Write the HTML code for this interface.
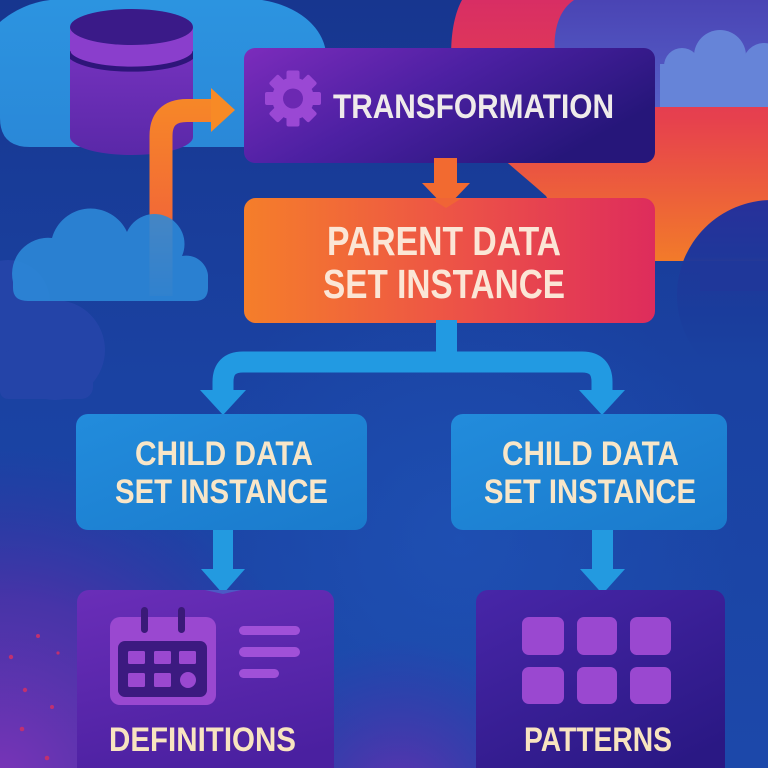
<!DOCTYPE html>
<html><head><meta charset="utf-8"><style>
html,body{margin:0;padding:0;background:#1b3d9c;}
svg{display:block;}
text{font-family:"Liberation Sans Narrow","Liberation Sans",sans-serif;font-weight:700;}
</style></head><body>
<svg width="768" height="768" viewBox="0 0 768 768" xmlns="http://www.w3.org/2000/svg">
<defs>
<linearGradient id="bg" x1="0" y1="0" x2="0" y2="1">
<stop offset="0" stop-color="#17368f"/><stop offset="0.5" stop-color="#1a42a2"/><stop offset="1" stop-color="#1c48aa"/>
</linearGradient>
<radialGradient id="glowc" cx="460" cy="540" r="280" gradientUnits="userSpaceOnUse">
<stop offset="0" stop-color="#2056ba" stop-opacity="0.6"/><stop offset="1" stop-color="#2056ba" stop-opacity="0"/>
</radialGradient>
<radialGradient id="pbl" cx="0" cy="780" r="330" gradientUnits="userSpaceOnUse">
<stop offset="0" stop-color="#7a34b8"/><stop offset="0.55" stop-color="#5a2ca8" stop-opacity="0.7"/><stop offset="1" stop-color="#3a2aa0" stop-opacity="0"/>
</radialGradient>
<radialGradient id="pbm" cx="400" cy="800" r="160" gradientUnits="userSpaceOnUse">
<stop offset="0" stop-color="#6a30b0" stop-opacity="0.9"/><stop offset="1" stop-color="#4a2aa8" stop-opacity="0"/>
</radialGradient>
<linearGradient id="warm" x1="0" y1="0" x2="0" y2="260" gradientUnits="userSpaceOnUse">
<stop offset="0" stop-color="#d82e64"/><stop offset="0.45" stop-color="#e6404e"/><stop offset="1" stop-color="#f27a2a"/>
</linearGradient>
<linearGradient id="sky" x1="0" y1="0" x2="0" y2="107" gradientUnits="userSpaceOnUse">
<stop offset="0" stop-color="#4a44b4"/><stop offset="1" stop-color="#5660c8"/>
</linearGradient>
<linearGradient id="dcl" x1="0" y1="200" x2="0" y2="390" gradientUnits="userSpaceOnUse">
<stop offset="0" stop-color="#28309a"/><stop offset="0.3" stop-color="#1f379a"/><stop offset="0.6" stop-color="#1b3a9a" stop-opacity="0.6"/><stop offset="0.85" stop-color="#1b3c9c" stop-opacity="0"/>
</linearGradient>
<linearGradient id="cl1" x1="0" y1="0" x2="0" y2="1">
<stop offset="0" stop-color="#2c94e0"/><stop offset="1" stop-color="#2a88d8"/>
</linearGradient>
<linearGradient id="tf" x1="0" y1="0" x2="1" y2="0.5">
<stop offset="0" stop-color="#7c2cbc"/><stop offset="0.5" stop-color="#4c20a2"/><stop offset="1" stop-color="#26167a"/>
</linearGradient>
<linearGradient id="par" x1="0" y1="0" x2="1" y2="0">
<stop offset="0" stop-color="#f57e2a"/><stop offset="0.5" stop-color="#ed5446"/><stop offset="1" stop-color="#de2c5c"/>
</linearGradient>
<linearGradient id="child" x1="0" y1="0" x2="1" y2="1">
<stop offset="0" stop-color="#228cdc"/><stop offset="1" stop-color="#1a7acc"/>
</linearGradient>
<linearGradient id="defb" x1="0" y1="0" x2="0.3" y2="1">
<stop offset="0" stop-color="#6a2eb8"/><stop offset="1" stop-color="#4a20a0"/>
</linearGradient>
<linearGradient id="patb" x1="0" y1="0" x2="0.6" y2="1">
<stop offset="0" stop-color="#4826a8"/><stop offset="1" stop-color="#2a1884"/>
</linearGradient>
<linearGradient id="oarr" x1="0" y1="88" x2="0" y2="300" gradientUnits="userSpaceOnUse">
<stop offset="0" stop-color="#f78a26"/><stop offset="0.6" stop-color="#f26a36"/><stop offset="1" stop-color="#ee6040" stop-opacity="0.2"/>
</linearGradient>
<linearGradient id="cylb" x1="0" y1="0" x2="0" y2="1">
<stop offset="0" stop-color="#7a34c2"/><stop offset="1" stop-color="#5a28a8"/>
</linearGradient>
<clipPath id="cylclip"><path d="M70 20 L70 137 A61.5 18 0 0 0 193 137 L193 20 Z"/></clipPath>
</defs>

<!-- background -->
<rect width="768" height="768" fill="url(#bg)"/>
<rect width="768" height="768" fill="url(#glowc)"/>
<rect width="768" height="768" fill="url(#pbl)"/>
<rect width="768" height="768" fill="url(#pbm)"/>

<!-- warm sun shape -->
<path d="M462 0 C448 25 446 80 466 116 C482 145 515 168 546 196 L580 261 L768 261 L768 0 Z" fill="url(#warm)"/>
<!-- sky -->
<path d="M574 0 C556 12 552 38 556 62 L556 107 L768 107 L768 0 Z" fill="url(#sky)"/>
<!-- light cloud top right -->
<g fill="#6684d8">
<circle cx="682" cy="66" r="18"/><circle cx="720" cy="56" r="26"/><circle cx="764" cy="64" r="21"/>
<rect x="660" y="64" width="108" height="43"/>
</g>
<!-- dark cloud right -->
<circle cx="772" cy="295" r="95" fill="url(#dcl)"/>
<rect x="700" y="261" width="68" height="30" fill="#1f379a"/>

<!-- cloud 3 dark bottom-left -->
<g fill="#2444a8">
<circle cx="8" cy="302" r="42"/><circle cx="55" cy="350" r="50"/>
<rect x="0" y="300" width="60" height="99" rx="8"/><rect x="0" y="350" width="93" height="49" rx="12"/>
</g>

<!-- cloud 1 big top-left -->
<path d="M30 147 Q0 147 0 118 L0 22 C14 10 32 2 50 0 L262 0 C298 6 322 26 326 52 L326 147 Z" fill="url(#cl1)"/>

<!-- cylinder -->
<path d="M70 27 L70 137 A61.5 18 0 0 0 193 137 L193 27 Z" fill="url(#cylb)"/>
<g clip-path="url(#cylclip)">
<path d="M70 27 L70 50 A61.5 18 0 0 0 193 50 L193 27 Z" fill="#8a3ecc"/>
<path d="M68 51 A63 18 0 0 0 195 51" fill="none" stroke="#2e157a" stroke-width="5"/>
</g>
<ellipse cx="131.5" cy="27" rx="61.5" ry="18" fill="#3a1a88"/>

<!-- orange arrow -->
<path d="M161 296 V136 Q161 110.5 187 110.5 H214" fill="none" stroke="url(#oarr)" stroke-width="23"/>
<polygon points="211,88 235,110 211,132" fill="#f78a26"/>

<!-- cloud 2 light -->
<g fill="#2c8ad8" opacity="0.88">
<path d="M28 301 L195 301 Q208 301 208 288 L208 275 A22 22 0 0 0 182 256 A30 30 0 0 0 127 232 A40 40 0 0 0 52 238 A36 36 0 0 0 13 282 L13 288 Q13 301 28 301 Z"/>
</g>

<!-- transformation box -->
<rect x="244" y="48" width="411" height="115" rx="11" fill="url(#tf)"/>
<!-- gear -->
<g transform="translate(293,98.5)" fill="#9a48d4">
<circle r="21"/>
<g>
<rect x="-6.5" y="-28" width="13" height="12" rx="2"/>
<rect x="-6.5" y="-28" width="13" height="12" rx="2" transform="rotate(45)"/>
<rect x="-6.5" y="-28" width="13" height="12" rx="2" transform="rotate(90)"/>
<rect x="-6.5" y="-28" width="13" height="12" rx="2" transform="rotate(135)"/>
<rect x="-6.5" y="-28" width="13" height="12" rx="2" transform="rotate(180)"/>
<rect x="-6.5" y="-28" width="13" height="12" rx="2" transform="rotate(225)"/>
<rect x="-6.5" y="-28" width="13" height="12" rx="2" transform="rotate(270)"/>
<rect x="-6.5" y="-28" width="13" height="12" rx="2" transform="rotate(315)"/>
</g>
<circle r="10" fill="#6c28b2"/>
</g>
<text x="333" y="118" font-size="34" fill="#efebea" textLength="281" lengthAdjust="spacingAndGlyphs">TRANSFORMATION</text>

<!-- orange down arrow -->
<rect x="434" y="158" width="23" height="28" fill="#f26a30"/>
<polygon points="422,183 470,183 446,208" fill="#f26a30"/>

<!-- parent box -->
<rect x="244" y="198" width="411" height="125" rx="12" fill="url(#par)"/>
<polygon points="430,198 462,198 446,208" fill="#f06436"/>
<text x="327" y="255" font-size="41" fill="#fbe6d6" textLength="234" lengthAdjust="spacingAndGlyphs">PARENT DATA</text>
<text x="323" y="298" font-size="41" fill="#fbe6d6" textLength="242" lengthAdjust="spacingAndGlyphs">SET INSTANCE</text>

<!-- blue connectors -->
<g fill="none" stroke="#229ae2" stroke-width="21">
<path d="M446.5 320 V362"/>
<path d="M223 396 V382 Q223 362 243 362 H582 Q602 362 602 382 V396"/>
</g>
<polygon points="200,390 246,390 223,415" fill="#229ae2"/>
<polygon points="579,390 625,390 602,415" fill="#229ae2"/>

<!-- child boxes -->
<rect x="76" y="414" width="291" height="116" rx="12" fill="url(#child)"/>
<rect x="451" y="414" width="276" height="116" rx="12" fill="url(#child)"/>
<text x="135" y="465" font-size="34" fill="#f8e6c8" textLength="178" lengthAdjust="spacingAndGlyphs">CHILD DATA</text>
<text x="115" y="503" font-size="34" fill="#f8e6c8" textLength="213" lengthAdjust="spacingAndGlyphs">SET INSTANCE</text>
<text x="502" y="465" font-size="34" fill="#f8e6c8" textLength="177" lengthAdjust="spacingAndGlyphs">CHILD DATA</text>
<text x="484" y="503" font-size="34" fill="#f8e6c8" textLength="212" lengthAdjust="spacingAndGlyphs">SET INSTANCE</text>

<!-- child down arrows -->
<rect x="213" y="530" width="20" height="40" fill="#239ae0"/>
<polygon points="201,569 245,569 223,594" fill="#239ae0"/>
<rect x="592" y="530" width="21" height="40" fill="#239ae0"/>
<polygon points="580,569 625,569 602.5,594" fill="#239ae0"/>

<!-- definitions box -->
<rect x="77" y="590" width="257" height="200" rx="12" fill="url(#defb)"/>
<polygon points="205,590 241,590 223,594" fill="#3a7ad0" opacity="0.6"/>
<rect x="110" y="617" width="106" height="88" rx="10" fill="#9a48d0"/>
<rect x="118" y="641" width="89" height="56" rx="7" fill="#3c1a80"/>
<g fill="#9a48d0">
<rect x="128" y="651" width="17" height="13" rx="1.5"/>
<rect x="154" y="651" width="17" height="13" rx="1.5"/>
<rect x="179" y="651" width="17" height="13" rx="1.5"/>
<rect x="128" y="673" width="17" height="14" rx="1.5"/>
<rect x="154" y="673" width="17" height="14" rx="1.5"/>
<circle cx="188" cy="680" r="8"/>
</g>
<rect x="141" y="607" width="7" height="26" rx="3.5" fill="#3a1a78"/>
<rect x="178" y="607" width="7" height="26" rx="3.5" fill="#3a1a78"/>
<g fill="#a050d8">
<rect x="239" y="626" width="61" height="9" rx="4.5"/>
<rect x="239" y="647" width="61" height="10" rx="5"/>
<rect x="239" y="669" width="40" height="9" rx="4.5"/>
</g>
<text x="109" y="751" font-size="34" fill="#f8e4c0" textLength="187" lengthAdjust="spacingAndGlyphs">DEFINITIONS</text>

<!-- patterns box -->
<rect x="476" y="590" width="249" height="200" rx="12" fill="url(#patb)"/>
<g fill="#9a48d0">
<rect x="522" y="617" width="42" height="38" rx="7"/>
<rect x="577" y="617" width="40" height="38" rx="7"/>
<rect x="630" y="617" width="41" height="38" rx="7"/>
<rect x="522" y="667" width="42" height="37" rx="7"/>
<rect x="577" y="667" width="40" height="37" rx="7"/>
<rect x="630" y="667" width="41" height="37" rx="7"/>
</g>
<text x="524" y="751" font-size="34" fill="#f8e4c0" textLength="148" lengthAdjust="spacingAndGlyphs">PATTERNS</text>

<!-- red dots -->
<g fill="#c03070">
<circle cx="38" cy="636" r="2"/><circle cx="11" cy="657" r="2.2"/><circle cx="58" cy="653" r="1.6"/>
<circle cx="25" cy="690" r="2.2"/><circle cx="52" cy="707" r="2"/><circle cx="22" cy="729" r="2.3"/>
<circle cx="47" cy="758" r="2.3"/>
</g>
</svg>
</body></html>
